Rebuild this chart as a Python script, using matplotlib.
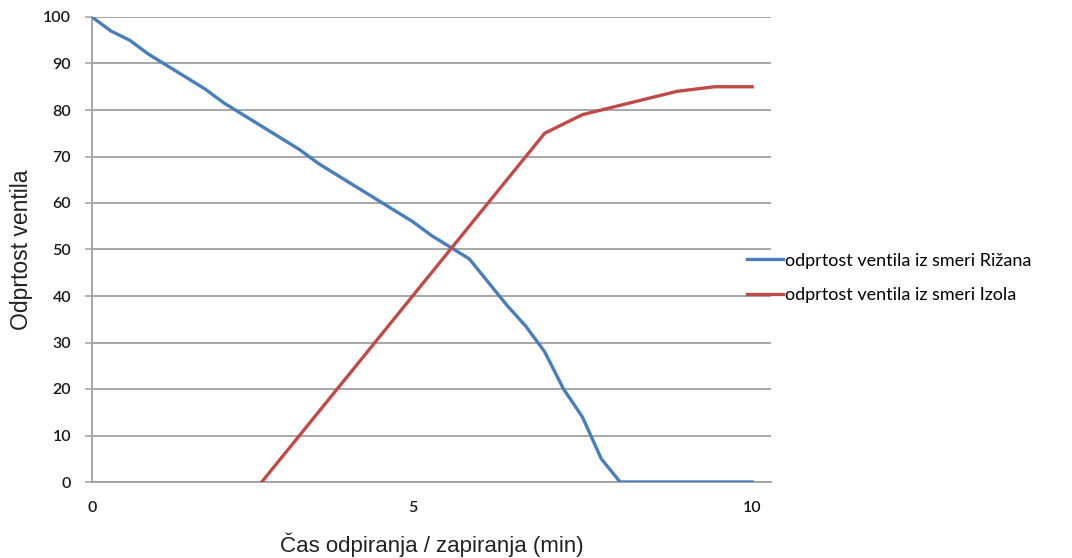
import numpy as np
import matplotlib
matplotlib.use('Agg')
import matplotlib.pyplot as plt

# category labels on the x axis (only some are shown)
x_labels = ['0'] + [''] * 16 + ['5'] + [''] * 17 + ['10']

# odprtost ventila iz smeri Rizana
rizana = [100, 97, 95, 92, 89.5, 87, 84.5, 81.5, 79, 76.5, 74, 71.5, 68.5, 66,
          63.5, 61, 58.5, 56, 53, 50.5, 48, 43, 38, 33.5, 28, 20, 14, 5, 0,
          0, 0, 0, 0, 0, 0, 0]
# odprtost ventila iz smeri Izola (starts later)
izola = [None] * 9 + [0, 5, 10, 15, 20, 25, 30, 35, 40, 45, 50, 55, 60, 65, 70,
                      75, 77, 79, 80, 81, 82, 83, 84, 84.5, 85, 85, 85]

legend_names = ['odprtost ventila iz smeri Rižana',
                'odprtost ventila iz smeri Izola']
y_label = 'Odprtost ventila'
x_title = 'Čas odpiranja / zapiranja (min)'

idx = np.arange(len(x_labels))
izola_arr = np.array([np.nan if v is None else v for v in izola], dtype=float)

fig = plt.figure(figsize=(10.72, 5.58), dpi=100)
ax = fig.add_axes([92/1072, 1-482/558, (771-92)/1072, (482-17)/558])

ax.plot(idx, rizana, color='#4a7ebb', lw=2.4, label=legend_names[0],
        solid_joinstyle='round', zorder=3)
ax.plot(idx, izola_arr, color='#be4b48', lw=2.4, label=legend_names[1],
        solid_joinstyle='round', zorder=3)

ax.set_xlim(0, len(x_labels))
ax.set_ylim(0, 100)
ax.set_yticks(np.arange(0, 101, 10))
ax.set_xticks(idx)
ax.set_xticklabels(x_labels)

grid_col = '#a0a0a0'
ax.grid(axis='y', color=grid_col, lw=1.3, zorder=0)
ax.set_axisbelow(True)
for s in ['top', 'right']:
    ax.spines[s].set_visible(False)
ax.spines['left'].set_color(grid_col)
ax.spines['left'].set_linewidth(1.3)
ax.spines['bottom'].set_color(grid_col)
ax.spines['bottom'].set_linewidth(1.3)

ax.tick_params(axis='y', length=5, width=1.1, color=grid_col, pad=10,
               labelsize=11.5, labelcolor='#1a1a1a')
ax.tick_params(axis='x', length=0, pad=14, labelsize=11.5, labelcolor='#1a1a1a')
for t in ax.get_xticklabels() + ax.get_yticklabels():
    t.set_family(['Lato', 'DejaVu Sans'])
    t.set_weight('semibold')

title_font = ['Liberation Sans Narrow', 'Liberation Sans', 'DejaVu Sans']
ax.set_ylabel(y_label, fontsize=16.5, family=title_font, color='#222222',
              labelpad=7)
ax.set_xlabel(x_title, fontsize=16, family=title_font, color='#222222',
              labelpad=12)

leg = fig.legend(loc='center left', bbox_to_anchor=(738/1072, 1-278/558),
                 frameon=False, handlelength=2.0,
                 handletextpad=0.1, labelspacing=1.05, borderpad=0,
                 prop={'family': ['Lato', 'DejaVu Sans'], 'size': 13})

fig.savefig('out.png', dpi=100)
